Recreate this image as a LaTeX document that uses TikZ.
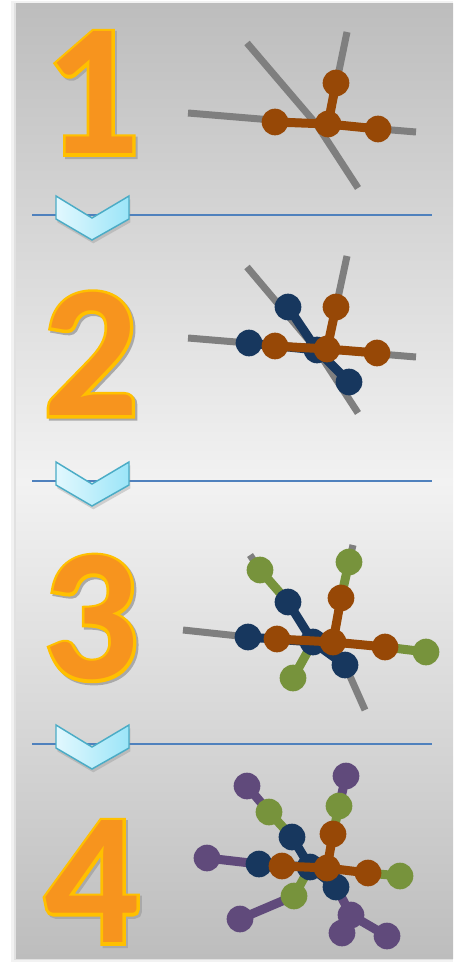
\documentclass[tikz,border=0pt]{standalone}
\usepackage{fontspec}
\usetikzlibrary{shadows}

\newfontfamily\numbody{Carlito}
\newfontfamily\numrim{Carlito}[BoldFeatures={FakeBold=3.2}]

\definecolor{rust}{HTML}{974806}
\definecolor{ink}{HTML}{17375E}
\definecolor{moss}{HTML}{77933C}
\definecolor{plum}{HTML}{604A7B}
\definecolor{guidegray}{HTML}{7F7F7F}
\definecolor{numfill}{HTML}{F7941E}
\definecolor{numedge}{HTML}{FFC000}
\definecolor{numshade}{HTML}{A9A9A9}
\definecolor{rulecol}{HTML}{4F81BD}
\definecolor{chevedge}{HTML}{4BACC6}
\definecolor{chevlight}{HTML}{E2F8FE}
\definecolor{chevdark}{HTML}{9BE5F8}
\definecolor{panelend}{HTML}{BDBDBD}
\definecolor{panelmid}{HTML}{F2F2F2}

\pgfdeclarelayer{bg}
\pgfdeclarelayer{guides}
\pgfdeclarelayer{tierP}
\pgfdeclarelayer{tierG}
\pgfdeclarelayer{tierN}
\pgfsetlayers{bg,guides,tierP,tierG,tierN,main}

% big step number: shadow, rim, body
\newcommand\numeral[1]{%
  \rlap{\kern1.6pt\lower1.6pt\hbox{\color{numshade}\numrim\bfseries#1}}%
  \rlap{\color{numedge}\numrim\bfseries#1}%
  {\color{numfill}\numbody\bfseries#1}}

\tikzset{
atom/.style={circle, fill=#1, inner sep=0pt, minimum size=20pt},
bond/.style={draw=#1, line width=6.75pt},
guide/.style={draw=guidegray, line width=5.25pt},
rule/.style={draw=rulecol, line width=1.1pt},
chevron/.style={draw=chevedge, line width=1.1pt, line join=miter,
  left color=chevlight, right color=chevdark,
  drop shadow={shadow xshift=1pt, shadow yshift=-2.5pt, opacity=.3}},
numeral/.style={inner sep=0pt, font=\fontsize{141}{141}\selectfont},
}

\begin{document}
\begin{tikzpicture}[x=0.75pt, y=-0.75pt]
    \useasboundingbox (0,0) rectangle (453,962);

    %panel
    \begin{pgfonlayer}{bg}
    \fill[black, opacity=.05] (11,1) rectangle (453,962);
    \fill[black, opacity=.07] (14,3) rectangle (453,960);
    \shade[top color=panelend, bottom color=panelmid] (16,4) rectangle (453,481.5);
    \shade[top color=panelmid, bottom color=panelend] (16,481) rectangle (453,958);
    \end{pgfonlayer}

    %step numbers
    \node[numeral] (n1) at (92,94) {\numeral{1}};
    \node[numeral] (n2) at (91,355) {\numeral{2}};
    \node[numeral] (n3) at (91,619) {\numeral{3}};
    \node[numeral] (n4) at (92,883) {\numeral{4}};

    %separators
    \draw[rule] (32,215) -- (432,215);
    \draw[rule] (32,481) -- (432,481);
    \draw[rule] (32,744) -- (432,744);
    \draw[chevron, shift={(0,215)}] (56,-19) -- (92,3) -- (129,-19) -- (129,4) -- (92,25) -- (56,4) -- cycle;
    \draw[chevron, shift={(0,481)}] (56,-19) -- (92,3) -- (129,-19) -- (129,4) -- (92,25) -- (56,4) -- cycle;
    \draw[chevron, shift={(0,744)}] (56,-19) -- (92,3) -- (129,-19) -- (129,4) -- (92,25) -- (56,4) -- cycle;

    %stage 1
    \node[atom=rust] (R1c) at (328,124) {};
    \node[atom=rust] (R1l) at (275,122) {};
    \node[atom=rust] (R1r) at (378,129) {};
    \node[atom=rust] (R1t) at (336,83) {};
    \coordinate (h1w) at (188,113);
    \coordinate (h1e) at (416,132);
    \coordinate (x1) at (317,125);
    \coordinate (d1n) at (247,43);
    \coordinate (d1s) at (358,188);
    \coordinate (s1n) at (347,32);

    \begin{pgfonlayer}{guides}
    \draw[guide] (h1w) -- (h1e);
    \draw[guide] (d1n) -- (x1) -- (d1s);
    \draw[guide] (s1n) -- (R1c.center);
    \end{pgfonlayer}
    \draw[bond=rust] (R1l.center) -- (R1c.center);
    \draw[bond=rust] (R1c.center) -- (R1r.center);
    \draw[bond=rust] (R1c.center) -- (R1t.center);

    %stage 2
    \node[atom=rust] (R2c) at (327,349) {};
    \node[atom=rust] (R2l) at (275,346) {};
    \node[atom=rust] (R2r) at (377,353) {};
    \node[atom=rust] (R2t) at (336,307) {};
    \begin{pgfonlayer}{tierN}
    \node[atom=ink] (N2c) at (317,350) {};
    \node[atom=ink] (N2l) at (249,343) {};
    \node[atom=ink] (N2t) at (288,307) {};
    \node[atom=ink] (N2b) at (349,382) {};
    \end{pgfonlayer}
    \coordinate (h2w) at (188,338);
    \coordinate (h2e) at (416,357);
    \coordinate (d2n) at (247,267);
    \coordinate (d2s) at (358,413);
    \coordinate (s2n) at (347,256);

    \begin{pgfonlayer}{guides}
    \draw[guide] (h2w) -- (h2e);
    \draw[guide] (d2n) -- (N2c.center) -- (d2s);
    \draw[guide] (s2n) -- (R2c.center);
    \end{pgfonlayer}
    \begin{pgfonlayer}{tierN}
    \draw[bond=ink] (N2l.center) -- (N2c.center);
    \draw[bond=ink] (N2t.center) -- (N2c.center);
    \draw[bond=ink] (N2c.center) -- (N2b.center);
    \end{pgfonlayer}
    \draw[bond=rust] (R2l.center) -- (R2c.center);
    \draw[bond=rust] (R2c.center) -- (R2r.center);
    \draw[bond=rust] (R2c.center) -- (R2t.center);

    %stage 3
    \node[atom=rust] (R3c) at (333,642) {};
    \node[atom=rust] (R3l) at (277,639) {};
    \node[atom=rust] (R3r) at (385,647) {};
    \node[atom=rust] (R3t) at (341,598) {};
    \begin{pgfonlayer}{tierN}
    \node[atom=ink] (N3c) at (313,642) {};
    \node[atom=ink] (N3l) at (248,637) {};
    \node[atom=ink] (N3t) at (288,602) {};
    \node[atom=ink] (N3b) at (345,665) {};
    \end{pgfonlayer}
    \begin{pgfonlayer}{tierG}
    \node[atom=moss] (G3a) at (260,570) {};
    \node[atom=moss] (G3b) at (349,562) {};
    \node[atom=moss] (G3r) at (426,652) {};
    \node[atom=moss] (G3d) at (293,678) {};
    \end{pgfonlayer}
    \coordinate (h3w) at (183,630);
    \coordinate (a3n) at (250,555);
    \coordinate (b3n) at (353,545);
    \coordinate (d3s) at (365,710);

    \begin{pgfonlayer}{guides}
    \draw[guide] (h3w) -- (N3l.center);
    \draw[guide] (a3n) -- (G3a.center);
    \draw[guide] (b3n) -- (G3b.center);
    \draw[guide] (d3s) -- (N3b.center);
    \end{pgfonlayer}
    \begin{pgfonlayer}{tierG}
    \draw[bond=moss] (G3a.center) -- (N3t.center);
    \draw[bond=moss] (G3b.center) -- (R3t.center);
    \draw[bond=moss] (G3r.center) -- (R3r.center);
    \draw[bond=moss] (G3d.center) -- (N3c.center);
    \end{pgfonlayer}
    \begin{pgfonlayer}{tierN}
    \draw[bond=ink] (N3l.center) -- (N3c.center);
    \draw[bond=ink] (N3t.center) -- (N3c.center);
    \draw[bond=ink] (N3c.center) -- (N3b.center);
    \end{pgfonlayer}
    \draw[bond=rust] (R3l.center) -- (R3c.center);
    \draw[bond=rust] (R3c.center) -- (R3r.center);
    \draw[bond=rust] (R3c.center) -- (R3t.center);

    %stage 4
    \node[atom=rust] (R4c) at (327,868) {};
    \node[atom=rust] (R4l) at (282,866) {};
    \node[atom=rust] (R4r) at (368,873) {};
    \node[atom=rust] (R4t) at (333,834) {};
    \begin{pgfonlayer}{tierN}
    \node[atom=ink] (N4c) at (310,867) {};
    \node[atom=ink] (N4l) at (259,864) {};
    \node[atom=ink] (N4t) at (292,837) {};
    \node[atom=ink] (N4b) at (336,887) {};
    \end{pgfonlayer}
    \begin{pgfonlayer}{tierG}
    \node[atom=moss] (G4a) at (269,812) {};
    \node[atom=moss] (G4b) at (339,806) {};
    \node[atom=moss] (G4r) at (400,876) {};
    \node[atom=moss] (G4d) at (294,896) {};
    \end{pgfonlayer}
    \begin{pgfonlayer}{tierP}
    \node[atom=plum] (P4a) at (247,786) {};
    \node[atom=plum] (P4b) at (346,776) {};
    \node[atom=plum] (P4l) at (207,858) {};
    \node[atom=plum] (P4d) at (240,919) {};
    \node[atom=plum] (P4j) at (351,915) {};
    \node[atom=plum] (P4k) at (342,933) {};
    \node[atom=plum] (P4r) at (387,936) {};
    \draw[bond=plum] (P4a.center) -- (G4a.center);
    \draw[bond=plum] (P4b.center) -- (G4b.center);
    \draw[bond=plum] (P4l.center) -- (N4l.center);
    \draw[bond=plum] (P4d.center) -- (G4d.center);
    \draw[bond=plum] (N4b.center) -- (P4j.center);
    \draw[bond=plum] (P4j.center) -- (P4k.center);
    \draw[bond=plum] (P4j.center) -- (P4r.center);
    \end{pgfonlayer}
    \begin{pgfonlayer}{tierG}
    \draw[bond=moss] (G4a.center) -- (N4t.center);
    \draw[bond=moss] (G4b.center) -- (R4t.center);
    \draw[bond=moss] (G4r.center) -- (R4r.center);
    \draw[bond=moss] (G4d.center) -- (N4c.center);
    \end{pgfonlayer}
    \begin{pgfonlayer}{tierN}
    \draw[bond=ink] (N4l.center) -- (N4c.center);
    \draw[bond=ink] (N4t.center) -- (N4c.center);
    \draw[bond=ink] (N4c.center) -- (N4b.center);
    \end{pgfonlayer}
    \draw[bond=rust] (R4l.center) -- (R4c.center);
    \draw[bond=rust] (R4c.center) -- (R4r.center);
    \draw[bond=rust] (R4c.center) -- (R4t.center);

\end{tikzpicture}
\end{document}
